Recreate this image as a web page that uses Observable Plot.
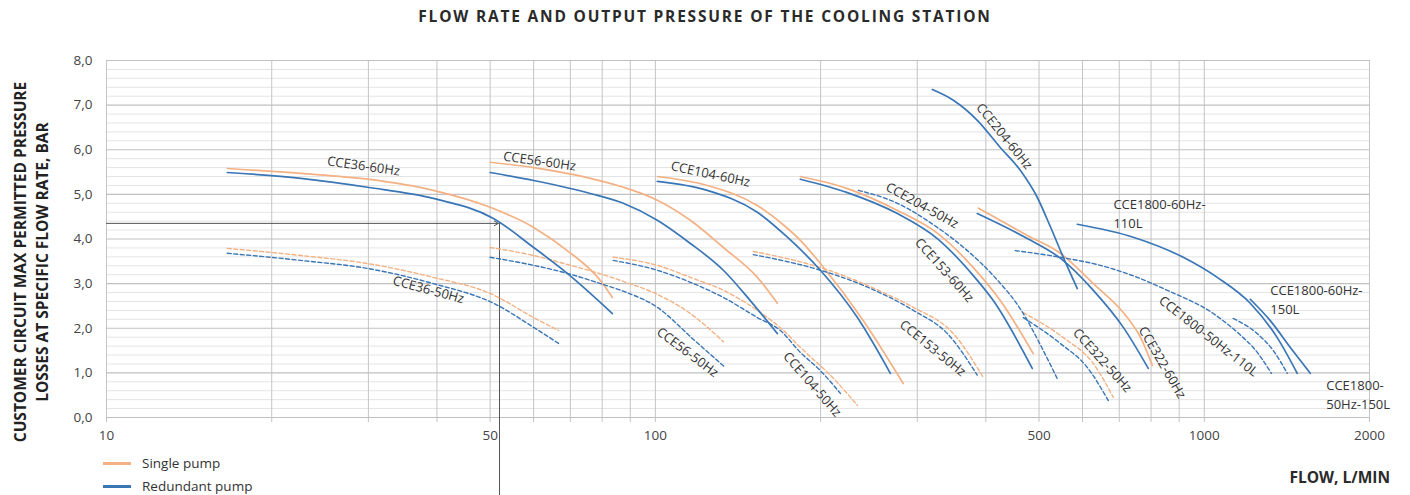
<!DOCTYPE html>
<html>
<head>
<meta charset="utf-8">
<script src="https://cdn.jsdelivr.net/npm/d3@7"></script>
<script src="https://cdn.jsdelivr.net/npm/@observablehq/plot@0.6"></script>
<style>
  body { margin: 0; background: #fff; font-family: "Open Sans", sans-serif; }
  #wrap { position: relative; width: 1410px; height: 495px; overflow: hidden; background: #fff; }
  #title { height: 32px; line-height: 32px; text-align: center; font-weight: bold; font-size: 15.5px; letter-spacing: 1.8px; color: #2a2a2a; }
  #xlabel { position: absolute; right: 20px; top: 466px; font-weight: bold; font-size: 15.5px; color: #2a2a2a; }
  #legend { position: absolute; left: 103px; top: 452px; font-size: 13.5px; color: #333; }
  #legend .item { height: 23px; line-height: 23px; display: flex; align-items: center; }
  #legend .sw { display: inline-block; width: 28px; height: 3px; margin-right: 11px; }
</style>
</head>
<body>
<div id="wrap">
  <div id="title">FLOW RATE AND OUTPUT PRESSURE OF THE COOLING STATION</div>
  <div id="chart"></div>
  <div id="xlabel">FLOW, L/MIN</div>
  <div id="legend"></div>
</div>
<script>
// ---------- data: [flow L/min, pressure bar] ----------
const cce36_60_single    = [[16.6,5.58],[22.6,5.47],[29.9,5.34],[39.4,5.09],[50,4.71],[60,4.26],[69.1,3.74],[79.4,3.07],[83.5,2.69]];
const cce36_60_redundant = [[16.6,5.49],[22.6,5.36],[29.9,5.16],[39.4,4.91],[50.7,4.46],[60,3.81],[69.1,3.23],[83.5,2.33]];
const cce36_50_single    = [[16.6,3.79],[22.6,3.63],[29.9,3.45],[39.4,3.14],[50,2.78],[60,2.24],[66.6,1.95]];
const cce36_50_redundant = [[16.6,3.68],[22.6,3.52],[29.9,3.34],[39.4,3.00],[50.7,2.56],[60,2.02],[66.6,1.66]];

const cce56_60_single    = [[50,5.72],[60,5.60],[69.1,5.47],[76.1,5.36],[87.4,5.16],[100.8,4.87],[115.8,4.42],[133,3.81],[153.4,3.14],[166.8,2.56]];
const cce56_60_redundant = [[50,5.49],[60,5.31],[76.1,5.02],[87.4,4.80],[100.8,4.42],[115.8,3.90],[133,3.30],[148.9,2.62],[166.8,1.88]];
const cce56_50_single    = [[50,3.81],[60,3.63],[69.1,3.43],[79.4,3.22],[87.4,3.05],[100.8,2.76],[115.8,2.33],[133,1.70]];
const cce56_50_redundant = [[50,3.59],[60,3.41],[69.1,3.23],[79.4,3.00],[87.4,2.83],[100.8,2.47],[117.3,1.75],[134.1,1.12]];

const cce104_60_single    = [[100.8,5.40],[124.3,5.20],[153.4,4.75],[172.5,4.28],[183.7,3.97],[199.8,3.45],[239.3,2.17],[282.9,0.76]];
const cce104_60_redundant = [[100.8,5.29],[124.3,5.09],[153.4,4.60],[174,4.04],[199.8,3.30],[233.4,2.24],[268,0.99]];
const cce104_50_single    = [[83.8,3.59],[100.8,3.41],[115.8,3.14],[133,2.85],[153.4,2.40],[171.1,1.95],[183.7,1.57],[211,0.88],[233.4,0.27]];
const cce104_50_redundant = [[83.8,3.52],[100.8,3.30],[115.8,3.03],[133,2.69],[153.4,2.24],[168.9,1.95],[183.7,1.46],[199.8,1.05],[217.3,0.54]];

const cce153_60_single    = [[183.7,5.40],[223.8,5.13],[276,4.64],[326.3,4.13],[379.5,3.36],[425,2.62],[488,1.43]];
const cce153_60_redundant = [[183.7,5.34],[223.8,5.04],[276,4.57],[326.3,4.01],[379.5,3.18],[412.7,2.62],[486,1.10]];
const cce153_50_single    = [[150.8,3.72],[199.8,3.36],[260.2,2.80],[295.1,2.47],[349,1.88],[395.7,0.90]];
const cce153_50_redundant = [[150.8,3.65],[199.8,3.30],[239.3,2.96],[295.1,2.40],[340.3,1.88],[385.9,0.95]];

const cce204_60_redundant = [[319.6,7.35],[349,7.11],[385.9,6.66],[425,6.05],[462.2,5.54],[496.4,4.93],[524.2,4.28],[553.6,3.59],[587.1,2.89]];
const cce204_50_redundant = [[234.4,5.09],[276,4.80],[326.3,4.26],[370.1,3.74],[412.7,3.18],[468,2.33],[509,1.50],[539.8,0.87]];

const cce322_60_single    = [[387.5,4.69],[476,4.08],[546.6,3.68],[627.9,3.00],[724.2,2.24],[765,1.80],[804.1,1.17]];
const cce322_60_redundant = [[385.9,4.57],[476,4.01],[546.6,3.57],[627.9,2.85],[712.1,2.02],[790.7,1.10]];
const cce322_50_single    = [[468,2.35],[553.6,1.79],[627.9,1.21],[682.8,0.45]];
const cce322_50_redundant = [[468,2.24],[546.6,1.66],[612.3,1.12],[668.6,0.38]];

const cce1800_60_110L = [[587,4.33],[742.5,4.04],[915.6,3.59],[1056,3.14],[1212.7,2.56],[1358,1.79],[1477,0.99]];
const cce1800_60_150L = [[1212.7,2.65],[1319,2.17],[1434.7,1.57],[1560,0.99]];
const cce1800_50_110L = [[452.6,3.74],[546.6,3.59],[646.6,3.41],[755.1,3.14],[856.3,2.85],[1038.5,2.33],[1177.5,1.79],[1228,1.57],[1325,0.99]];
const cce1800_50_150L = [[1129,2.22],[1248.8,1.88],[1335.7,1.50],[1416.6,0.99]];

// series: name, pump, frequency, points
const seriesList = [
  ["CCE36-60Hz","single",60,cce36_60_single],["CCE36-60Hz","redundant",60,cce36_60_redundant],
  ["CCE36-50Hz","single",50,cce36_50_single],["CCE36-50Hz","redundant",50,cce36_50_redundant],
  ["CCE56-60Hz","single",60,cce56_60_single],["CCE56-60Hz","redundant",60,cce56_60_redundant],
  ["CCE56-50Hz","single",50,cce56_50_single],["CCE56-50Hz","redundant",50,cce56_50_redundant],
  ["CCE104-60Hz","single",60,cce104_60_single],["CCE104-60Hz","redundant",60,cce104_60_redundant],
  ["CCE104-50Hz","single",50,cce104_50_single],["CCE104-50Hz","redundant",50,cce104_50_redundant],
  ["CCE153-60Hz","single",60,cce153_60_single],["CCE153-60Hz","redundant",60,cce153_60_redundant],
  ["CCE153-50Hz","single",50,cce153_50_single],["CCE153-50Hz","redundant",50,cce153_50_redundant],
  ["CCE204-60Hz","redundant",60,cce204_60_redundant],["CCE204-50Hz","redundant",50,cce204_50_redundant],
  ["CCE322-60Hz","single",60,cce322_60_single],["CCE322-60Hz","redundant",60,cce322_60_redundant],
  ["CCE322-50Hz","single",50,cce322_50_single],["CCE322-50Hz","redundant",50,cce322_50_redundant],
  ["CCE1800-60Hz-110L","redundant",60,cce1800_60_110L],["CCE1800-60Hz-150L","redundant",60,cce1800_60_150L],
  ["CCE1800-50Hz-110L","redundant",50,cce1800_50_110L],["CCE1800-50Hz-150L","redundant",50,cce1800_50_150L]
];

// curve labels (placed in data space)
const labelText  = ["CCE36-60Hz","CCE56-60Hz","CCE104-60Hz","CCE36-50Hz","CCE56-50Hz","CCE104-50Hz","CCE153-50Hz","CCE153-60Hz","CCE204-50Hz","CCE204-60Hz","CCE322-50Hz","CCE322-60Hz","CCE1800-50Hz-110L"];
const labelFlow  = [29.4, 61.5, 126, 38.6, 114.4, 193, 320, 336, 306, 432, 652, 838, 1017];
const labelPress = [5.63, 5.74, 5.45, 2.86, 1.46, 0.74, 1.55, 3.30, 4.75, 6.30, 1.28, 1.23, 1.82];
const labelAngle = [8, 8, 12, 15, 37, 49, 39, 48, 29, 51, 48, 60, 38];
const sideText   = ["CCE1800-60Hz-\n110L","CCE1800-60Hz-\n150L","CCE1800-\n50Hz-150L"];
const sideFlow   = [683, 1319, 1668];
const sidePress  = [4.60, 2.67, 0.54];

// axes
const xTicks = [10, 50, 100, 500, 1000, 2000];
const yTicks = [0, 1, 2, 3, 4, 5, 6, 7, 8];
const gridFlow = [10,20,30,40,50,60,70,80,90,100,200,300,400,500,600,700,800,900,1000,2000];
const minorPress = d3.range(0, 8.001, 0.2).map(v => +v.toFixed(1)).filter(v => v % 1 !== 0);
// reading example: flow 52 L/min at 4.35 bar
const exampleFlow = 52, examplePress = 4.35;

const legendItems = [["Single pump","single"],["Redundant pump","redundant"]];
const yTitle = "CUSTOMER CIRCUIT MAX PERMITTED PRESSURE\nLOSSES AT SPECIFIC FLOW RATE, BAR";

// ---------- build ----------
const colors = {single: "#F4B183", redundant: "#3A76B6"};
const rows = seriesList.flatMap(([name, pump, hz, pts]) => pts.map(([flow, p]) => ({name, pump, hz, flow, p})));
const labels = labelText.map((t, i) => ({text: t, flow: labelFlow[i], p: labelPress[i], angle: labelAngle[i]}));
const sides = sideText.map((t, i) => ({text: t, flow: sideFlow[i], p: sidePress[i]}));

const lineBase = {x: "flow", y: "p", z: "name", curve: "monotone-x", strokeWidth: 1.7};
const lineMarks = [];
for (const pump of ["single", "redundant"]) {
  lineMarks.push(Plot.line(rows.filter(d => d.pump === pump && d.hz === 60), {...lineBase, stroke: colors[pump]}));
  lineMarks.push(Plot.line(rows.filter(d => d.pump === pump && d.hz === 50), {...lineBase, stroke: colors[pump], strokeDasharray: "4,2.5", strokeWidth: 1.4}));
}

const chart = Plot.plot({
  width: 1410,
  height: 463,
  marginTop: 28,
  marginBottom: 78,
  marginLeft: 106,
  marginRight: 41,
  x: {type: "log", domain: [10, 2000]},
  y: {domain: [0, 8]},
  style: {fontFamily: "'Open Sans', sans-serif", fontSize: "13px", color: "#444", background: "#fff"},
  marks: [
    Plot.ruleY(minorPress, {stroke: "#e4e4e4", strokeWidth: 1}),
    Plot.ruleX(gridFlow, {stroke: "#c4c4c4", strokeWidth: 1, insetBottom: -5}),
    Plot.ruleY(yTicks, {stroke: "#c0c0c0", strokeWidth: 1.2}),
    Plot.axisX(xTicks, {tickSize: 0, tickPadding: 13, tickFormat: d => String(d), label: null, fontSize: 13.5, fill: "#444"}),
    Plot.axisY(yTicks, {tickSize: 0, tickPadding: 14, tickFormat: d => d.toFixed(1).replace(".", ","), label: null, fontSize: 13.5, fill: "#444"}),
    Plot.ruleX([exampleFlow], {y1: examplePress, y2: -1.9, stroke: "#555", strokeWidth: 1}),
    Plot.arrow([exampleFlow], {x1: 10, y1: examplePress, x2: d => d * 0.995, y2: examplePress, stroke: "#555", strokeWidth: 1, headLength: 7}),
    ...lineMarks,
    Plot.text(labels, {x: "flow", y: "p", text: "text", rotate: "angle", fontSize: 13, fill: "#333"}),
    Plot.text(sides, {x: "flow", y: "p", text: "text", textAnchor: "start", lineHeight: 1.5, fontSize: 13, fill: "#333"}),
    Plot.text([yTitle], {frameAnchor: "left", textAnchor: "middle", lineAnchor: "middle", rotate: -90, dx: -77, dy: 23, fontWeight: "bold", fontSize: 15.5, lineHeight: 1.42, fill: "#222"})
  ]
});
document.getElementById("chart").appendChild(chart);

const leg = d3.select("#legend");
for (const [text, pump] of legendItems) {
  const it = leg.append("div").attr("class", "item");
  it.append("span").attr("class", "sw").style("background", colors[pump]);
  it.append("span").text(text);
}
</script>
</body>
</html>
